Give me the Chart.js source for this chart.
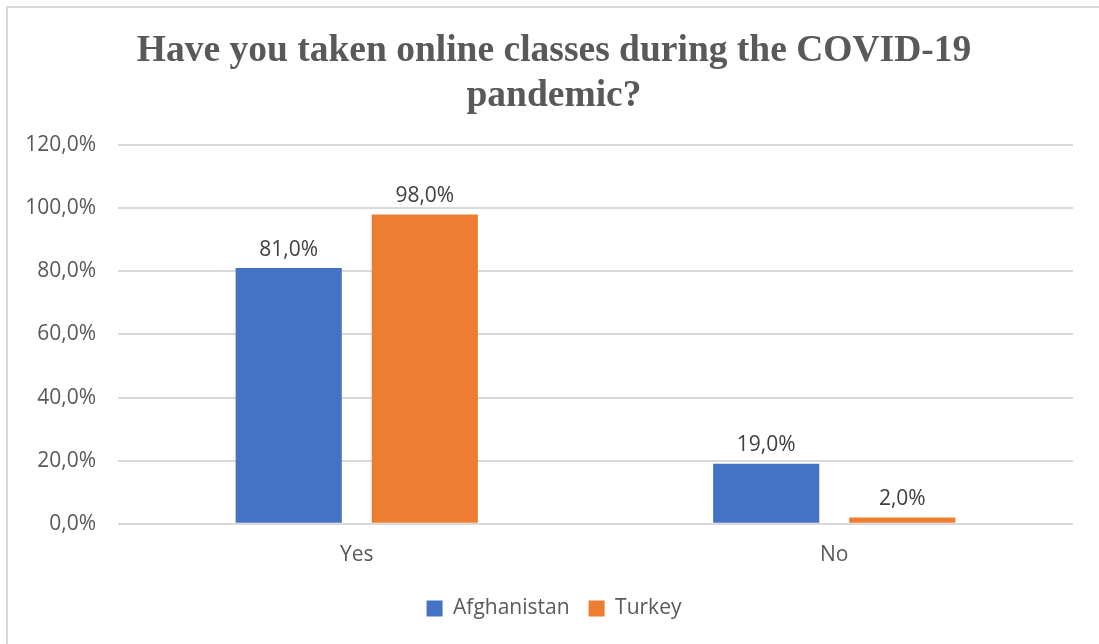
<!DOCTYPE html>
<html>
<head>
<meta charset="utf-8">
<script src="https://cdn.jsdelivr.net/npm/chart.js@4.4.0/dist/chart.umd.min.js"></script>
<style>
  html, body { margin: 0; padding: 0; background: #fff; }
  #wrap { position: relative; width: 1099px; height: 644px; overflow: hidden; }
  #frame {
    position: absolute; left: 6px; top: 6px; right: -10px; bottom: -10px;
    border-left: 2px solid #d9d9d9; border-top: 2px solid #d9d9d9;
  }
  canvas { position: absolute; left: 0; top: 0; }
</style>
</head>
<body>
<div id="wrap">
  <div id="frame"></div>
  <canvas id="chart" width="1099" height="644"></canvas>
</div>
<script>
const categories = ["Yes", "No"];
const afghanistan = [81.0, 19.0];
const turkey = [98.0, 2.0];
const seriesNames = ["Afghanistan", "Turkey"];

const fmt = v => v.toFixed(1).replace(".", ",") + "%";
const textFont = { family: "'Open Sans'", size: 21 };

// values printed above each bar
const barLabels = {
  id: "barLabels",
  afterDatasetsDraw(chart) {
    const ctx = chart.ctx;
    ctx.save();
    ctx.font = "21px 'Open Sans'";
    ctx.fillStyle = "#404040";
    ctx.textAlign = "center";
    ctx.textBaseline = "bottom";
    chart.data.datasets.forEach((ds, i) => {
      chart.getDatasetMeta(i).data.forEach((bar, j) => {
        ctx.fillText(fmt(ds.data[j]), bar.x, bar.y - 8);
      });
    });
    ctx.restore();
  }
};

// the y labels stick out past the left padding; let them draw there
const widenAxis = {
  id: "widenAxis",
  afterLayout(chart) {
    chart.scales.y.left = 0;
  }
};

new Chart(document.getElementById("chart").getContext("2d"), {
  type: "bar",
  data: {
    labels: categories,
    datasets: [
      { label: seriesNames[0], data: afghanistan, backgroundColor: "#4472C4" },
      { label: seriesNames[1], data: turkey, backgroundColor: "#ED7D31" }
    ]
  },
  options: {
    responsive: false,
    animation: false,
    layout: { padding: { top: 29, right: 26, bottom: 15, left: 35 } },
    datasets: {
      bar: { categoryPercentage: 0.57, barPercentage: 0.78 }
    },
    scales: {
      x: {
        grid: { display: false },
        border: { display: false },
        ticks: { color: "#595959", font: textFont, padding: 11 }
      },
      y: {
        min: 0,
        max: 120,
        afterFit: s => { s.width = 83; },
        grid: { color: "#d9d9d9", lineWidth: 2, drawTicks: false },
        border: { display: false },
        ticks: {
          stepSize: 20,
          padding: 22,
          color: "#595959",
          font: textFont,
          callback: v => fmt(v)
        }
      }
    },
    plugins: {
      title: {
        display: true,
        text: ["Have you taken online classes during the COVID-19", "pandemic?"],
        color: "#595959",
        font: { family: "'Liberation Serif'", size: 37.5, weight: "bold", lineHeight: 1.2 },
        padding: { top: 0, bottom: 26 }
      },
      legend: {
        position: "bottom",
        labels: {
          color: "#595959",
          font: textFont,
          boxWidth: 16,
          boxHeight: 16,
          padding: 19
        }
      },
      tooltip: { enabled: false }
    }
  },
  plugins: [barLabels, widenAxis]
});
</script>
</body>
</html>
